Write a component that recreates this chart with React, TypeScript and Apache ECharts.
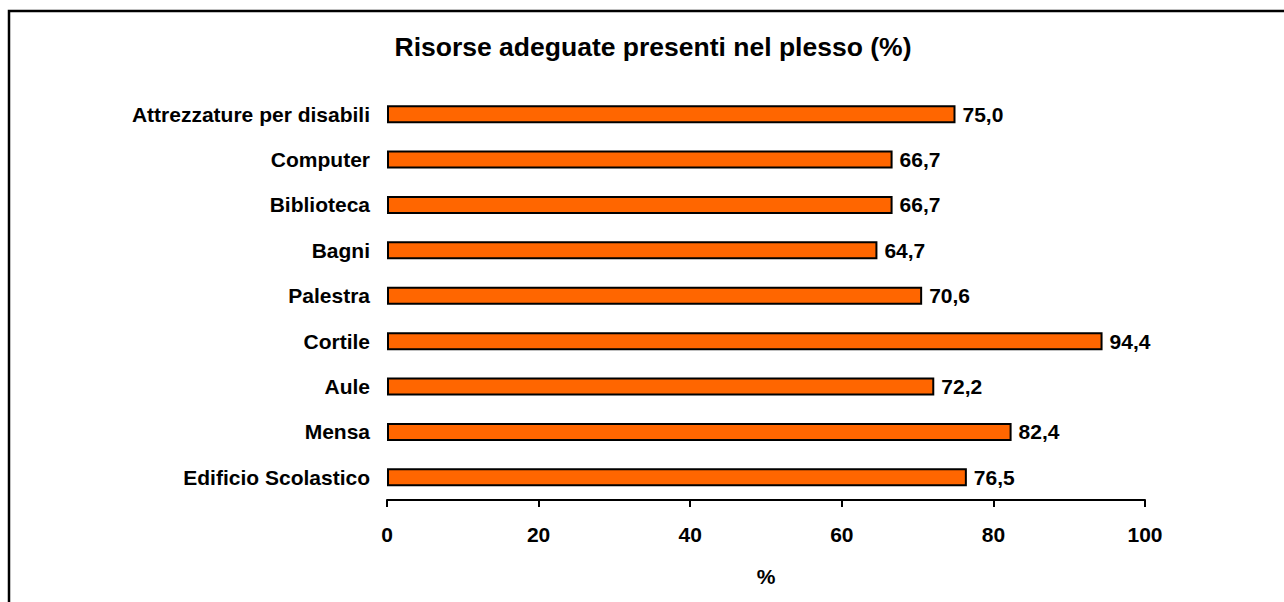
import React, { useEffect, useRef } from "react";
import * as echarts from "echarts";

const categories = [
  "Edificio Scolastico",
  "Mensa",
  "Aule",
  "Cortile",
  "Palestra",
  "Bagni",
  "Biblioteca",
  "Computer",
  "Attrezzature per disabili",
];
const values = [76.5, 82.4, 72.2, 94.4, 70.6, 64.7, 66.7, 66.7, 75.0];
const xTicks = [0, 20, 40, 60, 80, 100];
const titleText = "Risorse adeguate presenti nel plesso (%)";
const xAxisName = "%";

const FONT = "'Liberation Sans', Arial, sans-serif";

export default function App() {
  const ref = useRef<HTMLDivElement>(null);
  useEffect(() => {
    if (!ref.current) return;
    const chart = echarts.init(ref.current, null, { renderer: "svg" });
    chart.setOption({
      animation: false,
      backgroundColor: "#ffffff",
      textStyle: { fontFamily: FONT },
      title: {
        text: titleText,
        left: 648,
        top: 28,
        textAlign: "center",
        textStyle: { fontFamily: FONT, fontSize: 26.5, fontWeight: "bold", color: "#000" },
      },
      graphic: [
        {
          type: "rect",
          shape: { x: 9, y: 11, width: 1400, height: 800 },
          style: { fill: "none", stroke: "#000", lineWidth: 2.5 },
          silent: true,
        },
      ],
      grid: { left: 387, right: 139, top: 91.5, bottom: 102, containLabel: false },
      xAxis: {
        type: "value",
        min: xTicks[0],
        max: xTicks[xTicks.length - 1],
        interval: xTicks[1] - xTicks[0],
        name: xAxisName,
        nameLocation: "middle",
        nameGap: 66,
        nameTextStyle: { fontFamily: FONT, fontSize: 21, fontWeight: "bold", color: "#000" },
        axisLine: { show: true, lineStyle: { color: "#000", width: 2 } },
        axisTick: { show: true, length: 7, lineStyle: { color: "#000", width: 2 } },
        axisLabel: { margin: 24, fontFamily: FONT, fontSize: 21, fontWeight: "bold", color: "#000" },
        splitLine: { show: false },
      },
      yAxis: {
        type: "category",
        data: categories,
        axisLine: { show: false },
        axisTick: { show: false },
        axisLabel: { margin: 17, fontFamily: FONT, fontSize: 21, fontWeight: "bold", color: "#000" },
        splitLine: { show: false },
      },
      series: [
        {
          type: "bar",
          data: values,
          barWidth: 18,
          itemStyle: { color: "#FF6600", borderColor: "#000", borderWidth: 2 },
          label: {
            show: true,
            position: "right",
            distance: 7,
            fontFamily: FONT,
            fontSize: 21,
            fontWeight: "bold",
            color: "#000",
            formatter: (p: any) => Number(p.value).toFixed(1).replace(".", ","),
          },
        },
      ],
    });
    return () => chart.dispose();
  }, []);
  return (
    <div
      ref={ref}
      style={{ position: "fixed", left: 0, top: 0, width: 1284, height: 602 }}
    />
  );
}
